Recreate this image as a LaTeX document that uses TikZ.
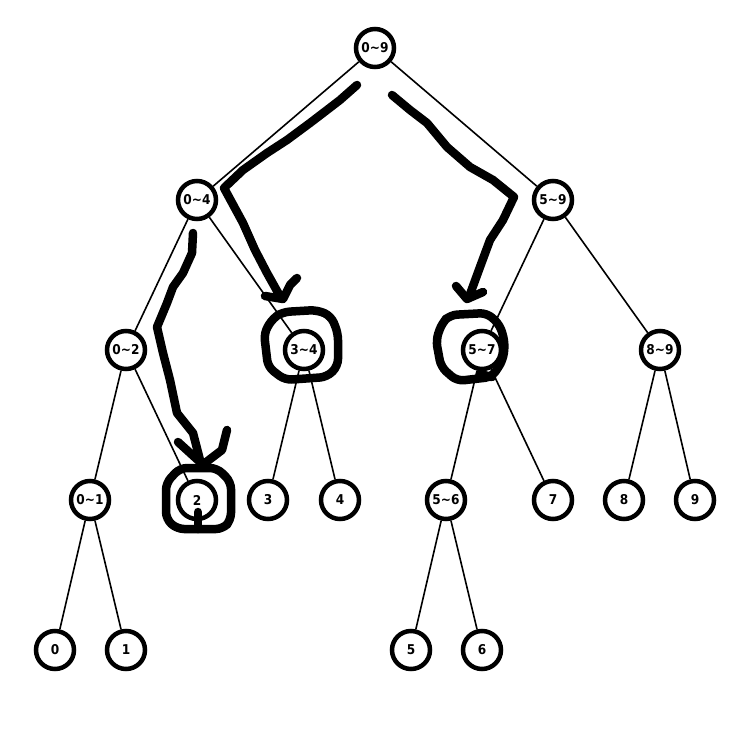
\documentclass[tikz,border=0pt]{standalone}
\usepackage{fontspec}
\newfontfamily\lblfont{DejaVu Sans Condensed}[BoldFont={DejaVu Sans Condensed Bold}]
\begin{document}
\begin{tikzpicture}[x=1pt,y=-1pt,
  tnode/.style={circle, draw, line width=4.5pt, minimum size=38pt, inner sep=0pt, fill=white,
    font=\lblfont\bfseries\fontsize{13.5}{13.5}\selectfont},
  edge/.style={line width=1.6pt},
  hand/.style={line width=8.5pt, line cap=round, line join=round},
  ring/.style={hand, rounded corners=7pt}]
\useasboundingbox (0,0) rectangle (751,751);
% nodes
\node[tnode] (n09) at (375,48) {0\char`~9};
\node[tnode] (n04) at (197,200) {0\char`~4};
\node[tnode] (n59) at (553,200) {5\char`~9};
\node[tnode] (n02) at (126,350) {0\char`~2};
\node[tnode] (n34) at (304,350) {3\char`~4};
\node[tnode] (n57) at (482,350) {5\char`~7};
\node[tnode] (n89) at (660,350) {8\char`~9};
\node[tnode] (n01) at (90,500) {0\char`~1};
\node[tnode] (n2) at (197,500) {2};
\node[tnode] (n3) at (268,500) {3};
\node[tnode] (n4) at (340,500) {4};
\node[tnode] (n56) at (446,500) {5\char`~6};
\node[tnode] (n7) at (553,500) {7};
\node[tnode] (n8) at (624,500) {8};
\node[tnode] (n9) at (695,500) {9};
\node[tnode] (n0) at (55,650) {0};
\node[tnode] (n1) at (126,650) {1};
\node[tnode] (n5) at (411,650) {5};
\node[tnode] (n6) at (482,650) {6};
% edges
\draw[edge] (n09) -- (n04);
\draw[edge] (n09) -- (n59);
\draw[edge] (n04) -- (n02);
\draw[edge] (n04) -- (n34);
\draw[edge] (n59) -- (n57);
\draw[edge] (n59) -- (n89);
\draw[edge] (n02) -- (n01);
\draw[edge] (n02) -- (n2);
\draw[edge] (n34) -- (n3);
\draw[edge] (n34) -- (n4);
\draw[edge] (n57) -- (n56);
\draw[edge] (n57) -- (n7);
\draw[edge] (n89) -- (n8);
\draw[edge] (n89) -- (n9);
\draw[edge] (n01) -- (n0);
\draw[edge] (n01) -- (n1);
\draw[edge] (n56) -- (n5);
\draw[edge] (n56) -- (n6);
% hand-drawn strokes: 0~9 -> 3~4
\draw[hand] (357,85) -- (340,100) -- (327,110) -- (310,123) -- (287,140) -- (267,153)
  -- (243,170) -- (224,188) -- (243,223) -- (255,250) -- (267,273) -- (281,298);
\draw[hand] (265,296) -- (283,299) -- (290,285) -- (297,278);
% 0~9 -> 5~7
\draw[hand] (392,95) -- (410,110) -- (427,123) -- (447,147) -- (470,167) -- (493,180)
  -- (514,197) -- (503,220) -- (490,240) -- (480,267) -- (469,297);
\draw[hand] (456,286) -- (467,299) -- (483,292);
% 0~4 -> 2
\draw[hand] (193,233) -- (192,253) -- (183,273) -- (173,287) -- (167,303) -- (157,327)
  -- (163,353) -- (170,380) -- (177,413) -- (193,433) -- (200,460);
\draw[hand] (178,442) -- (200,462);
\draw[hand] (227,430) -- (222,450) -- (205,463);
% ring around 2
\draw[ring] (200,468) -- (217,468) -- (231,482) -- (231,520) -- (223,529) -- (177,529)
  -- (166,519) -- (166,483) -- (180,468) -- cycle;
\draw[hand] (198,512) -- (198,529);
% ring around 3~4
\draw[ring] (283,312) -- (317,310) -- (331,316) -- (338,333) -- (338,366) -- (327,377)
  -- (285,380) -- (268,367) -- (264,333) -- (273,318) -- cycle;
% ring around 5~7
\draw[ring] (450,315) -- (487,313) -- (500,325) -- (505,343) -- (503,360) -- (492,377)
  -- (457,381) -- (441,367) -- (436,340) -- (442,323) -- cycle;
\draw[hand] (492,377) -- (480,374);
\end{tikzpicture}
\end{document}
